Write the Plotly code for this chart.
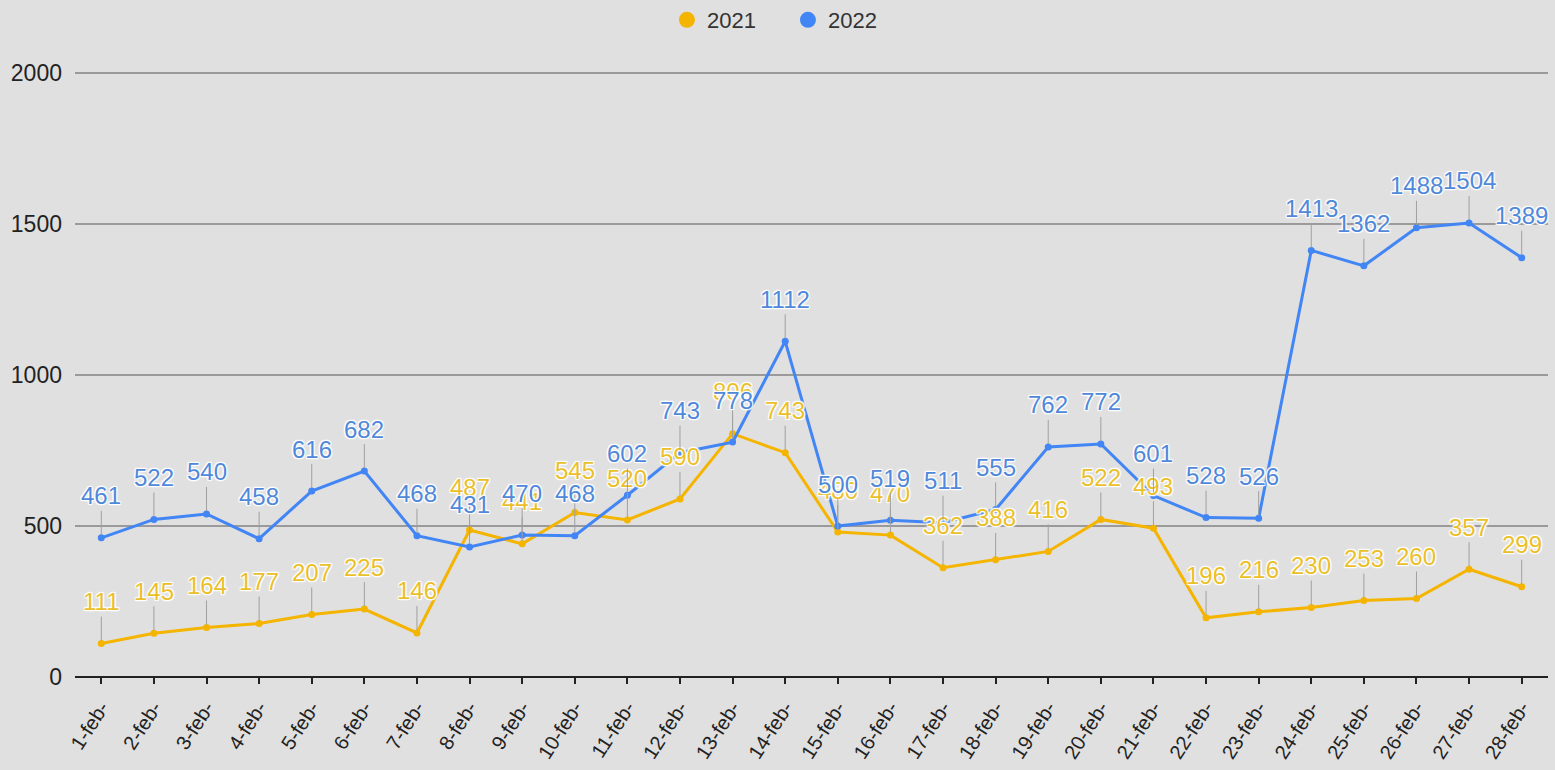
import plotly.graph_objects as go

days = [f"{d}-feb-" for d in range(1, 29)]
y2021 = [111, 145, 164, 177, 207, 225, 146, 487, 441, 545, 520, 590, 806, 743,
         480, 470, 362, 388, 416, 522, 493, 196, 216, 230, 253, 260, 357, 299]
y2022 = [461, 522, 540, 458, 616, 682, 468, 431, 470, 468, 602, 743, 778, 1112,
         500, 519, 511, 555, 762, 772, 601, 528, 526, 1413, 1362, 1488, 1504, 1389]
y_ticks = [0, 500, 1000, 1500, 2000]

C21 = "#f4b400"
C22 = "#4285f4"
L21 = "#ebbf2a"
L22 = "#5088da"
FONT = "Arial, 'Liberation Sans', sans-serif"

fig = go.Figure()
fig.add_trace(go.Scatter(x=days, y=y2021, mode="lines+markers", name="2021",
                         line=dict(color=C21, width=3), marker=dict(size=7, color=C21),
                         showlegend=False))
fig.add_trace(go.Scatter(x=days, y=y2022, mode="lines+markers", name="2022",
                         line=dict(color=C22, width=3), marker=dict(size=7, color=C22),
                         showlegend=False))
# legend-only traces (circle swatches)
fig.add_trace(go.Scatter(x=[None], y=[None], mode="markers", name="2021",
                         marker=dict(size=23, color=C21)))
fig.add_trace(go.Scatter(x=[None], y=[None], mode="markers", name="2022",
                         marker=dict(size=23, color=C22)))

shadow = ("white 1px 1px 1px, white -1px -1px 1px, white 1px -1px 1px, "
          "white -1px 1px 1px, white 0px 0px 3px")
anns = []
for series, col in ((y2021, L21), (y2022, L22)):
    for d, v in zip(days, series):
        anns.append(dict(x=d, y=v, xref="x", yref="y", text=str(v), showarrow=True,
                         arrowhead=0, arrowwidth=1, arrowcolor="#a0a0a0", ax=0, ay=-42,
                         standoff=3,
                         font=dict(family=FONT, size=24, color=col, shadow=shadow)))

fig.update_layout(
    width=1555, height=770,
    paper_bgcolor="#e0e0e0", plot_bgcolor="#e0e0e0",
    margin=dict(l=75, r=7, t=72, b=93, autoexpand=False),
    font=dict(family=FONT, size=22, color="#222222"),
    legend=dict(orientation="h", x=0.484, xanchor="center", y=0.974, yanchor="middle",
                yref="container", font=dict(size=22, color="#333333"),
                itemsizing="trace", itemwidth=30, entrywidth=76, entrywidthmode="pixels",
                bgcolor="rgba(0,0,0,0)"),
    annotations=anns,
    xaxis=dict(type="category", range=[-0.5, 27.5], tickangle=-57, automargin=False,
               ticks="outside", ticklen=6, tickwidth=2, tickcolor="#222222",
               ticklabelstandoff=4,
               showgrid=False, showline=False, zeroline=False,
               tickfont=dict(size=20, color="#222222")),
    yaxis=dict(range=[0, 2004], tickvals=y_ticks, ticktext=[str(t) for t in y_ticks],
               automargin=False,
               showgrid=True, gridcolor="#9a9a9a", gridwidth=2,
               zeroline=True, zerolinecolor="#222222", zerolinewidth=2,
               showline=False, ticks="", ticklabelstandoff=12,
               tickfont=dict(size=23, color="#222222")),
)

fig.write_html("out.html", config={"displayModeBar": False})
with open("out.html", "r", encoding="utf-8") as f:
    html = f.read()
html = html.replace("<head>", "<head><style>html,body{margin:0;padding:0;overflow:hidden;}</style>", 1)
with open("out.html", "w", encoding="utf-8") as f:
    f.write(html)
